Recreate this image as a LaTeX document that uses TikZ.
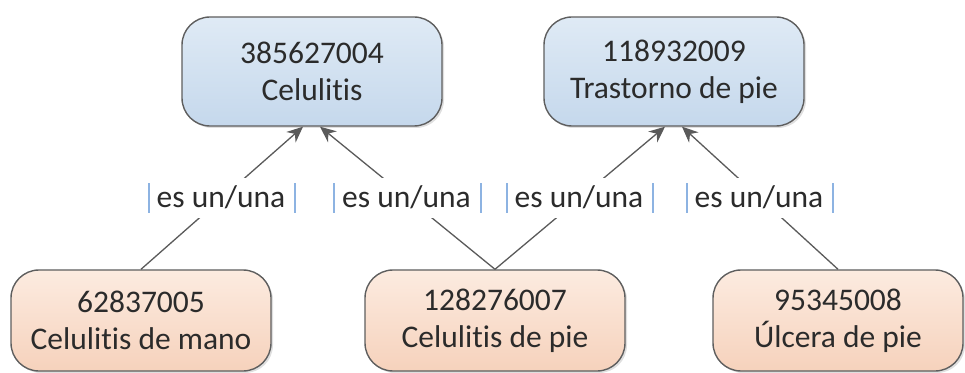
\documentclass[tikz,border=0pt]{standalone}
\usepackage{fontspec}
\setmainfont[Ligatures=NoCommon,RawFeature={-liga;-clig}]{Carlito}
\usetikzlibrary{arrows.meta,shadows}
\definecolor{boxline}{HTML}{5E5E5E}
\definecolor{linegray}{HTML}{5A5A5A}
\definecolor{textgray}{HTML}{2B2B2B}
\definecolor{topblue}{HTML}{DFEAF5}
\definecolor{botblue}{HTML}{C5D8EC}
\definecolor{toppeach}{HTML}{FCEBE0}
\definecolor{botpeach}{HTML}{F6D2BC}
\definecolor{barblue}{HTML}{8DB3E2}
\newcommand\barmark{\textcolor{barblue}{\rule[-5pt]{2pt}{30pt}}}
\begin{document}
\begin{tikzpicture}[x=1pt,y=1pt,
    concept/.style={draw=boxline, line width=1.4pt, rounded corners=28pt,
        minimum width=260pt, minimum height=109pt, align=center,
        font=\fontsize{31.5}{37}\selectfont, text=textgray,
        drop shadow={shadow xshift=2pt, shadow yshift=-2pt, opacity=0.25}},
    parent/.style={concept, top color=topblue, bottom color=botblue},
    child/.style={concept, top color=toppeach, bottom color=botpeach, minimum height=101pt},
    isa/.style={fill=white, inner sep=0pt, minimum height=40pt,
        font=\fontsize{31.5}{37}\selectfont, text=textgray},
    link/.style={draw=linegray, line width=1.3pt, -{Stealth[length=16pt,width=14pt]}}]
    \useasboundingbox (0,0) rectangle (965,372);
    % parents
    \node[parent] (cel) at (312,300.5) {385627004\\Celulitis};
    \node[parent] (tras) at (674,300.5) {118932009\\Trastorno de pie};
    % children
    \node[child] (mano) at (141,51.5) {62837005\\Celulitis de mano};
    \node[child] (celpie) at (495,51.5) {128276007\\Celulitis de pie};
    \node[child, minimum width=250pt] (ulcera) at (838,51.5) {95345008\\Úlcera de pie};
    % is-a links
    \draw[link] (mano.north) -- node[isa] {\barmark\hspace{7pt}es un/una\hspace{9pt}\barmark} ([xshift=-9pt]cel.south);
    \draw[link] (celpie.north) -- node[isa] {\barmark\hspace{7pt}es un/una\hspace{9pt}\barmark} ([xshift=8pt]cel.south);
    \draw[link] (celpie.north) -- node[isa] {\barmark\hspace{7pt}es un/una\hspace{9pt}\barmark} ([xshift=-9pt]tras.south);
    \draw[link] (ulcera.north) -- node[isa] {\barmark\hspace{7pt}es un/una\hspace{9pt}\barmark} ([xshift=8pt]tras.south);
\end{tikzpicture}
\end{document}
